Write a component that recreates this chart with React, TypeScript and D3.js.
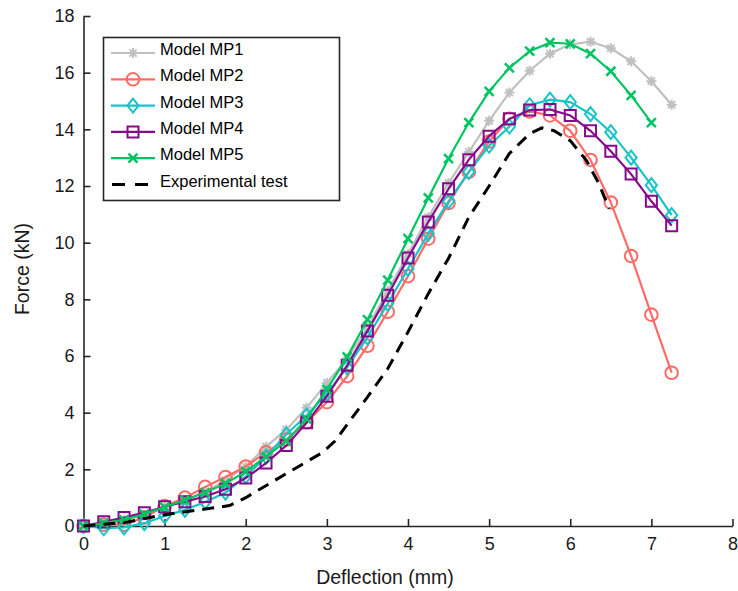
import React, { useRef, useEffect } from "react";
import * as d3 from "d3";

// deflection steps shared by the model curves (mm)
const deflection = [0, 0.25, 0.5, 0.75, 1, 1.25, 1.5, 1.75, 2, 2.25, 2.5, 2.75, 3, 3.25, 3.5, 3.75, 4, 4.25, 4.5, 4.75, 5, 5.25, 5.5, 5.75, 6, 6.25, 6.5, 6.75, 7, 7.25];

// force (kN)
const mp1 = [0, 0.08, 0.2, 0.4, 0.65, 0.92, 1.22, 1.6, 2.1, 2.8, 3.4, 4.17, 5.05, 5.9, 7.0, 8.3, 9.6, 10.9, 12.1, 13.2, 14.3, 15.3, 16.07, 16.67, 17.0, 17.09, 16.86, 16.4, 15.7, 14.87];
const mp2 = [0, 0.05, 0.05, 0.3, 0.7, 1.0, 1.38, 1.73, 2.1, 2.6, 3.05, 3.66, 4.37, 5.29, 6.36, 7.56, 8.82, 10.14, 11.4, 12.5, 13.57, 14.37, 14.63, 14.49, 13.95, 12.92, 11.42, 9.53, 7.46, 5.41];
const mp3 = [0, -0.08, -0.05, 0.1, 0.35, 0.57, 0.85, 1.18, 1.75, 2.45, 3.23, 3.9, 4.68, 5.6, 6.66, 7.85, 9.08, 10.32, 11.46, 12.5, 13.42, 14.1, 14.85, 15.05, 14.96, 14.54, 13.9, 13.0, 12.03, 10.97];
const mp4 = [0, 0.15, 0.3, 0.47, 0.68, 0.86, 1.04, 1.3, 1.69, 2.22, 2.84, 3.64, 4.58, 5.67, 6.88, 8.14, 9.46, 10.73, 11.9, 12.93, 13.76, 14.37, 14.68, 14.7, 14.49, 13.95, 13.23, 12.42, 11.46, 10.6];
const mp5 = [0, 0.1, 0.22, 0.42, 0.67, 0.92, 1.18, 1.5, 1.92, 2.45, 3.0, 3.78, 4.82, 5.97, 7.28, 8.68, 10.14, 11.58, 12.97, 14.24, 15.34, 16.17, 16.76, 17.06, 17.02, 16.67, 16.05, 15.2, 14.24];

const expDeflection = [0, 0.5, 1.0, 1.5, 1.8, 2.0, 2.5, 2.95, 3.1, 3.5, 3.75, 4.0, 4.25, 4.5, 4.75, 5.0, 5.25, 5.5, 5.65, 5.8, 6.0, 6.2, 6.35, 6.48];
const expForce = [0, 0.12, 0.4, 0.6, 0.72, 1.0, 1.85, 2.6, 3.0, 4.55, 5.55, 6.85, 8.2, 9.45, 10.9, 12.0, 13.15, 13.85, 14.05, 13.95, 13.6, 12.9, 12.1, 11.2];

const xTicks = [0, 1, 2, 3, 4, 5, 6, 7, 8];
const yTicks = [0, 2, 4, 6, 8, 10, 12, 14, 16, 18];

const seriesNames = ["Model MP1", "Model MP2", "Model MP3", "Model MP4", "Model MP5"];
const seriesColors = ["#c0c0c0", "#ff6b66", "#17c4c8", "#860b8c", "#00c462"];
const seriesMarkers = ["asterisk", "circle", "diamond", "square", "cross"];
const seriesValues = [mp1, mp2, mp3, mp4, mp5];

const markerPath: Record<string, string> = {
  asterisk: "M-5,0L5,0M0,-5L0,5M-3.6,-3.6L3.6,3.6M-3.6,3.6L3.6,-3.6",
  diamond: "M0,-7L5.6,0L0,7L-5.6,0Z",
  square: "M-5.5,-5.5L5.5,-5.5L5.5,5.5L-5.5,5.5Z",
  cross: "M-4.5,-4.5L4.5,4.5M-4.5,4.5L4.5,-4.5",
};

function addMarker(g: any, type: string, color: string) {
  if (type === "circle") {
    g.append("circle").attr("r", 6.3).attr("fill", "none").attr("stroke", color).attr("stroke-width", 2);
  } else {
    g.append("path")
      .attr("d", markerPath[type])
      .attr("fill", "none")
      .attr("stroke", color)
      .attr("stroke-width", type === "cross" ? 2.5 : 2);
  }
}

export default function App() {
  const svgRef = useRef<SVGSVGElement>(null);

  useEffect(() => {
    const svg = d3.select(svgRef.current);
    svg.selectAll("*").remove();

    const x = d3.scaleLinear().domain([0, 8]).range([83.5, 732.5]);
    const y = d3.scaleLinear().domain([0, 18]).range([526, 16]);
    const axisColor = "#262626";
    const font = "'Liberation Sans', Arial, sans-serif";

    // axes (ticks point inward)
    const xAxis = svg
      .append("g")
      .attr("transform", `translate(0, ${y(0)})`)
      .call(d3.axisBottom(x).tickValues(xTicks).tickSize(-7).tickPadding(11).tickSizeOuter(0));
    const yAxis = svg
      .append("g")
      .attr("transform", `translate(${x(0)}, 0)`)
      .call(d3.axisLeft(y).tickValues(yTicks).tickSize(-7).tickPadding(9).tickSizeOuter(0));
    [xAxis, yAxis].forEach((a) => {
      a.select(".domain").attr("stroke", axisColor).attr("stroke-width", 1.6);
      a.selectAll(".tick line").attr("stroke", axisColor).attr("stroke-width", 1.6);
      a.selectAll(".tick text").attr("fill", "#1a1a1a").style("font-family", font).style("font-size", "18px");
    });

    svg
      .append("text")
      .attr("x", 385)
      .attr("y", 584)
      .attr("text-anchor", "middle")
      .style("font-family", font)
      .style("font-size", "19.5px")
      .attr("fill", "#1a1a1a")
      .text("Deflection (mm)");
    svg
      .append("text")
      .attr("transform", `translate(29, 269) rotate(-90)`)
      .attr("text-anchor", "middle")
      .style("font-family", font)
      .style("font-size", "19.5px")
      .attr("fill", "#1a1a1a")
      .text("Force (kN)");

    const line = d3
      .line<[number, number]>()
      .x((d) => x(d[0]))
      .y((d) => y(d[1]));

    // model curves
    seriesValues.forEach((vals, i) => {
      const pts: [number, number][] = vals.map((v, j) => [deflection[j], v]);
      const g = svg.append("g");
      g.append("path")
        .attr("d", line(pts))
        .attr("fill", "none")
        .attr("stroke", seriesColors[i])
        .attr("stroke-width", 2.2);
      pts.forEach((p) => {
        const m = g.append("g").attr("transform", `translate(${x(p[0])}, ${y(p[1])})`);
        addMarker(m, seriesMarkers[i], seriesColors[i]);
      });
    });

    // experimental test
    const expPts: [number, number][] = expForce.map((v, j) => [expDeflection[j], v]);
    svg
      .append("path")
      .attr("d", line(expPts))
      .attr("fill", "none")
      .attr("stroke", "#000")
      .attr("stroke-width", 3)
      .attr("stroke-dasharray", "12,8");

    // legend
    const lg = svg.append("g");
    lg.append("rect")
      .attr("x", 103.5)
      .attr("y", 37.5)
      .attr("width", 236)
      .attr("height", 163)
      .attr("fill", "#fff")
      .attr("stroke", axisColor)
      .attr("stroke-width", 1.6);
    const labels = [...seriesNames, "Experimental test"];
    labels.forEach((name, i) => {
      const ly = 53 + i * 26.3;
      if (i < 5) {
        lg.append("line")
          .attr("x1", 111).attr("x2", 155).attr("y1", ly).attr("y2", ly)
          .attr("stroke", seriesColors[i]).attr("stroke-width", 2.2);
        const m = lg.append("g").attr("transform", `translate(133, ${ly})`);
        addMarker(m, seriesMarkers[i], seriesColors[i]);
      } else {
        lg.append("line")
          .attr("x1", 112).attr("x2", 148).attr("y1", ly).attr("y2", ly)
          .attr("stroke", "#000").attr("stroke-width", 3).attr("stroke-dasharray", "13,10");
      }
      lg.append("text")
        .attr("x", 160)
        .attr("y", ly - 4)
        .attr("dominant-baseline", "central")
        .style("font-family", font)
        .style("font-size", "16.5px")
        .attr("fill", "#000")
        .text(name);
    });
  }, []);

  return (
    <svg
      ref={svgRef}
      width={738}
      height={591}
      style={{ position: "absolute", left: 0, top: 0, background: "#fff" }}
    />
  );
}
